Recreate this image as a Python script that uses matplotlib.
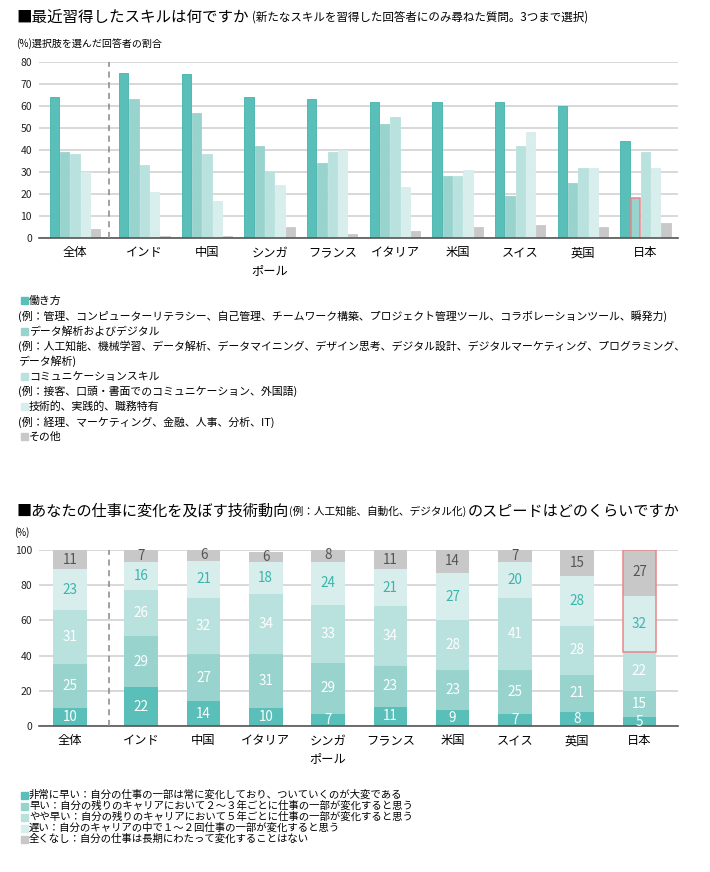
import numpy as np
import matplotlib
matplotlib.use('Agg')
import matplotlib.pyplot as plt
from matplotlib.patches import Rectangle

plt.rcParams['font.family'] = ['Noto Sans CJK JP', 'DejaVu Sans']

W, H = 710, 872

# --- top chart: skills learned recently (%)
skill_countries = ['全体', 'インド', '中国', 'シンガ\nポール', 'フランス',
                   'イタリア', '米国', 'スイス', '英国', '日本']
work_style = [64, 75, 74.5, 64, 63, 62, 62, 62, 60, 44]
data_digital = [39, 63, 57, 42, 34, 52, 28, 19, 25, 18]
communication = [38, 33, 38, 30, 39, 55, 28, 42, 32, 39]
technical = [30, 21, 17, 24, 40, 23, 31, 48, 32, 32]
other_skill = [4, 1, 1, 5, 2, 3, 5, 6, 5, 7]
skill_ticks = [0, 10, 20, 30, 40, 50, 60, 70, 80]

skill_legend = [
    ('■', '働き方'),
    (None, '(例：管理、コンピューターリテラシー、自己管理、チームワーク構築、プロジェクト管理ツール、コラボレーションツール、瞬発力)'),
    ('■', 'データ解析およびデジタル'),
    (None, '(例：人工知能、機械学習、データ解析、データマイニング、デザイン思考、デジタル設計、デジタルマーケティング、プログラミング、'),
    (None, 'データ解析)'),
    ('■', 'コミュニケーションスキル'),
    (None, '(例：接客、口頭・書面でのコミュニケーション、外国語)'),
    ('■', '技術的、実践的、職務特有'),
    (None, '(例：経理、マーケティング、金融、人事、分析、IT)'),
    ('■', 'その他'),
]

# --- bottom chart: speed of change (%)
speed_countries = ['全体', 'インド', '中国', 'イタリア', 'シンガ\nポール',
                   'フランス', '米国', 'スイス', '英国', '日本']
very_fast = [10, 22, 14, 10, 7, 11, 9, 7, 8, 5]
fast = [25, 29, 27, 31, 29, 23, 23, 25, 21, 15]
somewhat_fast = [31, 26, 32, 34, 33, 34, 28, 41, 28, 22]
slow = [23, 16, 21, 18, 24, 21, 27, 20, 28, 32]
never = [11, 7, 6, 6, 8, 11, 14, 7, 15, 27]
speed_ticks = [0, 20, 40, 60, 80, 100]

speed_legend = [
    '非常に早い：自分の仕事の一部は常に変化しており、ついていくのが大変である',
    '早い：自分の残りのキャリアにおいて２～３年ごとに仕事の一部が変化すると思う',
    'やや早い：自分の残りのキャリアにおいて５年ごとに仕事の一部が変化すると思う',
    '遅い：自分のキャリアの中で１～２回仕事の一部が変化すると思う',
    '全くなし：自分の仕事は長期にわたって変化することはない',
]

colors = ['#5bbfb9', '#99d3ce', '#b9e1de', '#d7eeec', '#c8c8c8']
edge1 = '#45b2ac'
teal_text = '#3ab5ad'
red = '#e8868a'
grid_c = '#d2d2d2'


def fy(y):
    return 1 - y / H


fig = plt.figure(figsize=(W / 100, H / 100), dpi=100)
renderer = fig.canvas.get_renderer()


def title(y, parts, gap):
    x = 16
    for txt, size in parts:
        t = fig.text(x / W, fy(y), txt, fontsize=size, va='center', ha='left')
        bb = t.get_window_extent(renderer)
        x += bb.width + gap


def style_axes(ax, ticks):
    for s in ['top', 'right', 'left']:
        ax.spines[s].set_visible(False)
    ax.spines['bottom'].set_color('#555555')
    ax.spines['bottom'].set_linewidth(1.2)
    ax.set_yticks(ticks)
    ax.set_ylim(ticks[0], ticks[-1])
    ax.yaxis.grid(True, color=grid_c, lw=1.2)
    ax.set_axisbelow(True)
    ax.tick_params(axis='y', length=0, pad=5, labelsize=7.5, labelcolor='#222')
    ax.tick_params(axis='x', length=0, pad=6, labelsize=8.8)
    for lab in ax.get_xticklabels():
        lab.set_verticalalignment('top')
        lab.set_linespacing(1.45)


# ---------------- top chart
title(17, [('■最近習得したスキルは何ですか', 11.2),
           ('(新たなスキルを習得した回答者にのみ尋ねた質問。3つまで選択)', 8.3)], 3)
fig.text(16 / W, fy(44), '(%)選択肢を選んだ回答者の割合', fontsize=7.2, va='center')

ax1 = fig.add_axes([39 / W, fy(238), 639 / W, 176 / H])
x1 = np.r_[0, 1.108 + np.arange(9)]
series1 = [work_style, data_digital, communication, technical, other_skill]
step, bw = 0.164, 0.148
for i, vals in enumerate(series1):
    ec = edge1 if i == 0 else colors[i]
    bars = ax1.bar(x1 + (i - 2) * step, vals, bw, color=colors[i],
                   edgecolor=ec, lw=0.6, zorder=2)
    if i == 1:
        bars[-1].set_edgecolor(red)
        bars[-1].set_linewidth(1.1)
ax1.set_xlim(-0.574, 9.626)
ax1.set_xticks(x1)
ax1.set_xticklabels(skill_countries)
style_axes(ax1, skill_ticks)
ax1.axvline(0.537, color='#888888', lw=1.1, ls=(0, (4, 3)), zorder=3)

y = 301
ci = 0
for mark, txt in skill_legend:
    if mark:
        fig.patches.append(Rectangle((21 / W, fy(y + 3.5)), 7 / W, 7 / H,
                                     transform=fig.transFigure,
                                     color=colors[ci], figure=fig))
        fig.text(29 / W, fy(y), txt, fontsize=7.85, va='center')
        ci += 1
    else:
        fig.text(18 / W, fy(y), txt, fontsize=7.85, va='center')
    y += 15.1

# ---------------- bottom chart
title(511, [('■あなたの仕事に変化を及ぼす技術動向', 10.9),
            ('(例：人工知能、自動化、デジタル化)', 7.7),
            ('のスピードはどのくらいですか', 10.9)], 1)
fig.text(22 / W, fy(533), '(%)', fontsize=7, va='center', ha='center')

ax2 = fig.add_axes([39 / W, fy(726), 639 / W, 176 / H])
x2 = np.r_[0, 1.144 + np.arange(9)]
series2 = [very_fast, fast, somewhat_fast, slow, never]
txt_c = ['white', 'white', 'white', teal_text, '#555555']
bottom = np.zeros(len(x2))
for i, vals in enumerate(series2):
    vals = np.array(vals, dtype=float)
    ax2.bar(x2, vals, 0.54, bottom=bottom, color=colors[i], lw=0, zorder=2)
    for xx, b, v in zip(x2, bottom, vals):
        ax2.text(xx, b + v / 2, f'{int(v)}', ha='center', va='center',
                 fontsize=9.7, color=txt_c[i], zorder=4)
    bottom += vals
# highlight box for Japan slow + never
base_jp = very_fast[-1] + fast[-1] + somewhat_fast[-1]
ax2.add_patch(Rectangle((x2[-1] - 0.27, base_jp), 0.54, 100 - base_jp,
                        fill=False, edgecolor=red, lw=1.1, zorder=5))
ax2.set_xlim(-0.498, 9.764)
ax2.set_xticks(x2)
ax2.set_xticklabels(speed_countries)
style_axes(ax2, speed_ticks)
ax2.axvline(0.626, color='#888888', lw=1.1, ls=(0, (4, 3)), zorder=3)

y = 795
for i, txt in enumerate(speed_legend):
    fig.patches.append(Rectangle((21 / W, fy(y + 3.5)), 7 / W, 7 / H,
                                 transform=fig.transFigure,
                                 color=colors[i], figure=fig))
    fig.text(29 / W, fy(y), txt, fontsize=7.5, va='center')
    y += 11

fig.savefig('out.png', dpi=100)
